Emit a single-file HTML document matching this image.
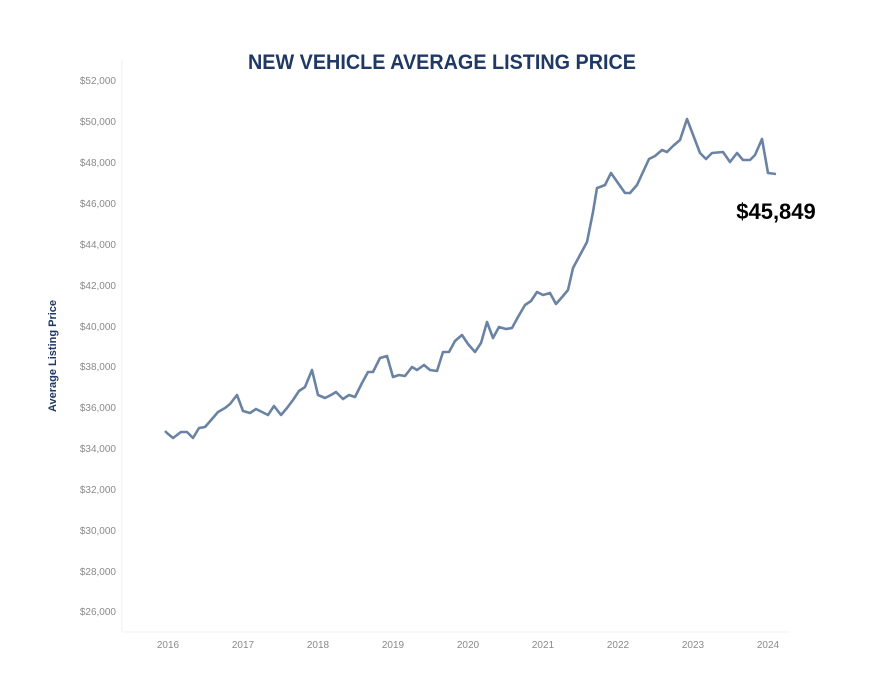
<!DOCTYPE html>
<html><head><meta charset="utf-8"><style>
html,body{margin:0;padding:0;background:#fff;}
body{width:891px;height:690px;overflow:hidden;}
</style></head><body>
<svg width="891" height="690" xmlns="http://www.w3.org/2000/svg" font-family="Liberation Sans, sans-serif">
<rect width="891" height="690" fill="#fff"/>
<text x="442" y="69" text-anchor="middle" font-size="21" font-weight="bold" fill="#1f3864" textLength="388" lengthAdjust="spacingAndGlyphs">NEW VEHICLE AVERAGE LISTING PRICE</text>
<line x1="122" y1="60" x2="122" y2="632" stroke="#f0f0f0" stroke-width="1"/>
<line x1="122" y1="632" x2="790" y2="632" stroke="#f0f0f0" stroke-width="1"/>
<g font-size="10" fill="#8a8a8a" text-anchor="end">
<text x="116" y="84">$52,000</text>
<text x="116" y="125">$50,000</text>
<text x="116" y="166">$48,000</text>
<text x="116" y="207">$46,000</text>
<text x="116" y="248">$44,000</text>
<text x="116" y="289">$42,000</text>
<text x="116" y="330">$40,000</text>
<text x="116" y="370">$38,000</text>
<text x="116" y="411">$36,000</text>
<text x="116" y="452">$34,000</text>
<text x="116" y="493">$32,000</text>
<text x="116" y="534">$30,000</text>
<text x="116" y="575">$28,000</text>
<text x="116" y="615">$26,000</text>
</g>
<g font-size="10" fill="#8a8a8a" text-anchor="middle">
<text x="168" y="648">2016</text><text x="243" y="648">2017</text><text x="318" y="648">2018</text><text x="393" y="648">2019</text><text x="468" y="648">2020</text><text x="543" y="648">2021</text><text x="618" y="648">2022</text><text x="693" y="648">2023</text><text x="768" y="648">2024</text>
</g>
<text transform="translate(56,356) rotate(-90)" text-anchor="middle" font-size="11" font-weight="bold" fill="#1f3864">Average Listing Price</text>
<polyline fill="none" stroke="#6a83a3" stroke-width="2.6" stroke-linejoin="round" points="165,431 167,433 173,438 181,432 187,432 193,438 199,428 205,427 212,419 218,412 225,408 230,404 237,395 243,411 250,413 256,409 262,412 268,415 274,406 281,415 287,408 293,400 299,391 305,387 312,370 318,395 325,398 331,395 336,392 343,399 349,395 355,397 362,383 368,372 373,372 380,358 387,356 393,377 399,375 405,376 412,367 417,370 424,365 430,370 437,371 443,352 449,352 455,341 462,335 468,344 475,352 481,343 487,322 493,338 499,327 506,329 512,328 518,317 525,305 531,301 537,292 543,295 550,293 556,304 563,296 568,290 573,268 580,255 587,242 593,212 597,188 600,187 605,185 611,173 625,193 630,193 637,185 649,159 655,156 662,150 667,152 673,146 680,140 687,119 700,153 706,159 712,153 723,152 730,162 737,153 743,160 750,160 755,155 762,139 768,173 776,174"/>
<text x="776" y="219" text-anchor="middle" font-size="22" font-weight="bold" fill="#000">$45,849</text>
</svg>
</body></html>
